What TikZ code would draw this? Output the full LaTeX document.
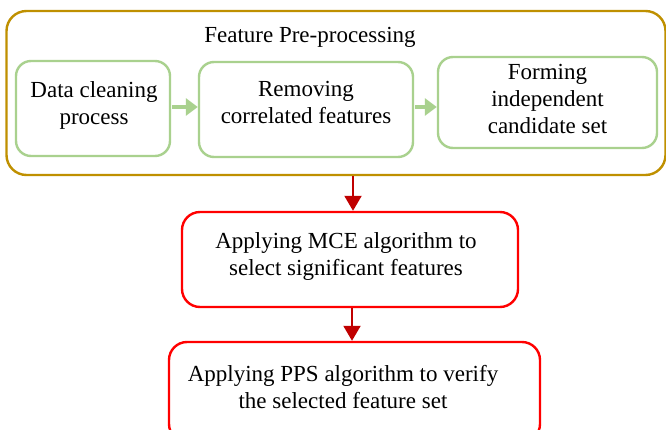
\documentclass[tikz,border=0pt]{standalone}
\usepackage{fontspec}
\setmainfont{Liberation Serif}
\usetikzlibrary{arrows.meta}
\definecolor{goldline}{HTML}{BF9000}
\definecolor{greenline}{HTML}{A9D18E}
\definecolor{redline}{HTML}{FF0000}
\definecolor{darkred}{HTML}{C00000}
\tikzset{
  box/.style={draw, rectangle, line width=2.4pt, inner sep=0pt},
  outerbox/.style={box, draw=goldline, rounded corners=20pt},
  greenbox/.style={box, draw=greenline, rounded corners=15pt},
  redbox/.style={box, draw=redline, rounded corners=18pt},
  label/.style={align=center, inner sep=0pt, font=\fontsize{23}{27}\selectfont},
  greenarrow/.style={draw=greenline, line width=4.5pt,
    -{Triangle[length=12pt,width=17pt]}, shorten <=1pt},
  redarrow/.style={draw=darkred, line width=2pt,
    -{Triangle[length=15pt,width=17pt]}}
}
\begin{document}
\begin{tikzpicture}[x=1pt, y=-1pt]
  \useasboundingbox (0,0) rectangle (666,430);
  \fill[white] (0,0) rectangle (666,430);

  % feature pre-processing group
  \node[outerbox, minimum width=659pt, minimum height=164pt] (pre) at (336,93) {};
  \node[label] (pretitle) at (310,37) {Feature Pre-processing};

  \node[greenbox, minimum width=154pt, minimum height=95pt] (clean) at (93,108.5) {};
  \node[label] (cleantxt) at (94,105) {Data cleaning\\process};

  \node[greenbox, minimum width=214pt, minimum height=95pt] (remove) at (306,109.5) {};
  \node[label] (removetxt) at (306,103) {Removing\\correlated features};

  \node[greenbox, minimum width=219pt, minimum height=91pt] (form) at (547.5,102.5) {};
  \node[label] (formtxt) at (547.5,99) {Forming\\independent\\candidate set};

  \draw[greenarrow] (clean.east |- 0,107) -- (remove.west |- 0,107);
  \draw[greenarrow] (remove.east |- 0,107) -- (form.west |- 0,107);

  % selection steps
  \node[redbox, minimum width=336pt, minimum height=95pt] (mce) at (350,259.5) {};
  \node[label] (mcetxt) at (346,256.5) {Applying MCE algorithm to\\select significant features};

  \node[redbox, minimum width=371pt, minimum height=100pt] (pps) at (354.5,392) {};
  \node[label] (ppstxt) at (343,387) {Applying PPS algorithm to verify\\the selected feature set};

  \draw[redarrow] ([xshift=3pt]mce.north |- pre.south) -- ([xshift=3pt]mce.north);
  \draw[redarrow] ([xshift=2pt]mce.south) -- ([xshift=2pt]mce.south |- pps.north);
\end{tikzpicture}
\end{document}
